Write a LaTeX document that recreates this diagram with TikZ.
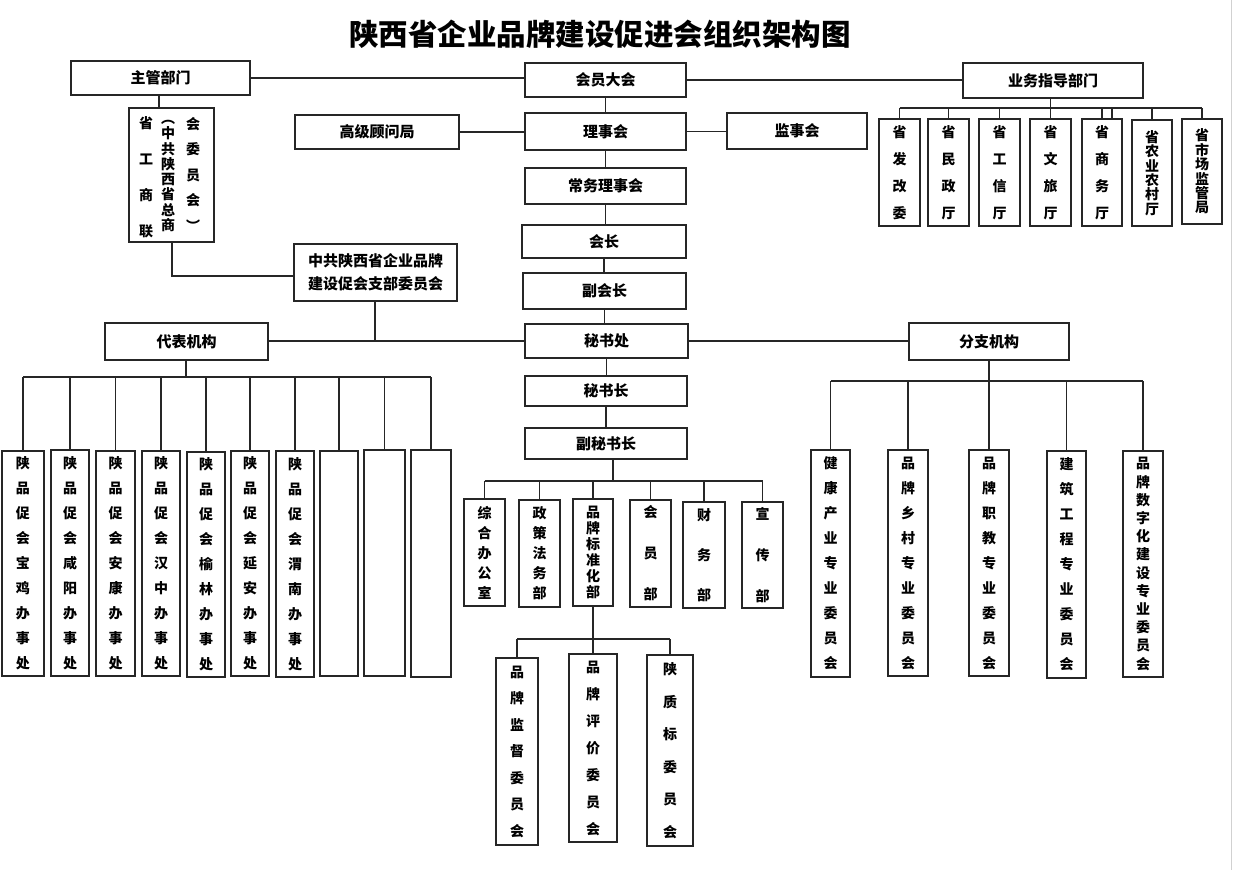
\documentclass[tikz,border=0pt]{standalone}
\usepackage{fontspec}
\setmainfont{Noto Sans CJK SC}
\tikzset{
  box/.style={draw=black!85, line width=1.1pt, inner sep=0pt, align=center,
    font=\fontsize{15}{18}\selectfont\bfseries},
  ln/.style={draw=black!85, line width=1.1pt},
  vtext/.style={align=center, inner sep=0pt},
}
% \bx[opts]{name}{x1}{y1}{x2}{y2}{text}
\newcommand\bx[7][]{%
  \pgfmathsetmacro\bxcx{(#3+#5)/2}%
  \pgfmathsetmacro\bxcy{(#4+#6)/2}%
  \pgfmathsetmacro\bxw{#5-#3}%
  \pgfmathsetmacro\bxh{#6-#4}%
  \node[box, minimum width=\bxw pt, minimum height=\bxh pt, #1] (#2) at (\bxcx,\bxcy) {#7};}
\newcommand\vt[1]{\fontsize{14}{#1}\selectfont\bfseries}
\begin{document}
\begin{tikzpicture}[x=1pt,y=-1pt]
\useasboundingbox (0,0) rectangle (1233,870);
\fill[white] (0,0) rectangle (1233,870);
\draw[black!18, line width=1pt] (1231,0) -- (1231,870);

\node[font=\fontsize{29.5}{34}\selectfont\bfseries] (title) at (600,34) {陕西省企业品牌建设促进会组织架构图};

% main column
\bx{zg}{71}{61}{250}{95}{主管部门}
\bx{hy}{525}{63}{686}{97}{会员大会}
\bx{yw}{963}{63}{1143}{98}{业务指导部门}
\bx{gw}{295}{115}{459}{149}{高级顾问局}
\bx{lsh}{525}{113}{686}{150}{理事会}
\bx{jsh}{727}{113}{867}{149}{监事会}
\bx{cw}{525}{168}{686}{204}{常务理事会}
\bx{hz}{522}{225}{686}{258}{会长}
\bx{fhz}{523}{273}{686}{309}{副会长}
\bx{msc}{525}{324}{688}{358}{秘书处}
\bx{msz}{525}{376}{687}{406}{秘书长}
\bx{fmsz}{525}{428}{687}{459}{副秘书长}
\bx[font=\fontsize{15}{23}\selectfont\bfseries]{zb}{294}{244}{457}{301}{中共陕西省企业品牌\\建设促会支部委员会}
\bx{db}{105}{323}{268}{360}{代表机构}
\bx{fz}{909}{323}{1069}{360}{分支机构}

% 省工商联
\bx{gsl}{129}{108}{214}{242}{}
\node[vtext, font=\vt{36}] (g1) at (146,177) {省\\工\\商\\联};
\node[vtext, font=\vt{15.3}] (g2) at (168,176) {︵\\中\\共\\陕\\西\\省\\总\\商};
\node[vtext, font=\vt{25.5}] (g3) at (193,174) {会\\委\\员\\会\\︶};

% ministries
\bx[font=\vt{27}]{m1}{879}{119}{920}{226}{省\\发\\改\\委}
\bx[font=\vt{27}]{m2}{928}{119}{969}{226}{省\\民\\政\\厅}
\bx[font=\vt{27}]{m3}{979}{119}{1020}{226}{省\\工\\信\\厅}
\bx[font=\vt{27}]{m4}{1030}{119}{1071}{226}{省\\文\\旅\\厅}
\bx[font=\vt{27}]{m5}{1082}{119}{1122}{226}{省\\商\\务\\厅}
\bx[font=\vt{14.4}]{m6}{1132}{120}{1172}{226}{省\\农\\业\\农\\村\\厅}
\bx[font=\vt{14.4}]{m7}{1182}{119}{1222}{224}{省\\市\\场\\监\\管\\局}

% offices
\bx[font=\vt{25}]{o1}{2}{451}{44}{676}{陕\\品\\促\\会\\宝\\鸡\\办\\事\\处}
\bx[font=\vt{25}]{o2}{51}{450}{89}{676}{陕\\品\\促\\会\\咸\\阳\\办\\事\\处}
\bx[font=\vt{25}]{o3}{96}{451}{135}{676}{陕\\品\\促\\会\\安\\康\\办\\事\\处}
\bx[font=\vt{25}]{o4}{142}{451}{180}{676}{陕\\品\\促\\会\\汉\\中\\办\\事\\处}
\bx[font=\vt{25}]{o5}{187}{452}{225}{677}{陕\\品\\促\\会\\榆\\林\\办\\事\\处}
\bx[font=\vt{25}]{o6}{231}{451}{269}{676}{陕\\品\\促\\会\\延\\安\\办\\事\\处}
\bx[font=\vt{25}]{o7}{276}{451}{314}{677}{陕\\品\\促\\会\\渭\\南\\办\\事\\处}
\bx{o8}{320}{451}{358}{676}{}
\bx{o9}{364}{450}{405}{676}{}
\bx{o10}{411}{450}{451}{677}{}

% departments
\bx[font=\vt{20}]{d1}{464}{499}{505}{606}{综\\合\\办\\公\\室}
\bx[font=\vt{20}]{d2}{519}{500}{560}{607}{政\\策\\法\\务\\部}
\bx[font=\vt{16}]{d3}{573}{499}{613}{606}{品\\牌\\标\\准\\化\\部}
\bx[font=\vt{41}]{d4}{630}{500}{671}{607}{会\\员\\部}
\bx[font=\vt{40}]{d5}{683}{502}{725}{608}{财\\务\\部}
\bx[font=\vt{41}]{d6}{742}{502}{783}{608}{宣\\传\\部}

% sub committees
\bx[font=\vt{26.5}]{s1}{496}{658}{538}{845}{品\\牌\\监\\督\\委\\员\\会}
\bx[font=\vt{27}]{s2}{569}{654}{617}{842}{品\\牌\\评\\价\\委\\员\\会}
\bx[font=\vt{32.5}]{s3}{647}{655}{693}{846}{陕\\质\\标\\委\\员\\会}

% branches
\bx[font=\vt{25}]{b1}{811}{450}{850}{677}{健\\康\\产\\业\\专\\业\\委\\员\\会}
\bx[font=\vt{25}]{b2}{888}{450}{928}{676}{品\\牌\\乡\\村\\专\\业\\委\\员\\会}
\bx[font=\vt{25}]{b3}{969}{450}{1009}{676}{品\\牌\\职\\教\\专\\业\\委\\员\\会}
\bx[font=\vt{25}]{b4}{1047}{451}{1086}{678}{建\\筑\\工\\程\\专\\业\\委\\员\\会}
\bx[font=\vt{18.2}]{b5}{1123}{451}{1163}{677}{品\\牌\\数\\字\\化\\建\\设\\专\\业\\委\\员\\会}

% coordinates
\coordinate (zc) at (159,0);
\coordinate (gk) at (172,276);
\coordinate (zk) at (375,341);
\coordinate (ob) at (186,377);
\coordinate (bb) at (989,381);
\coordinate (fb) at (613,481);
\coordinate (sb) at (593,639);
\coordinate (mb) at (1050,108);
\coordinate (mx) at (1112,108);

% connectors
\draw[ln] (zg.east) -- (zg.east -| hy.west);
\draw[ln] (hy.east) -- (hy.east -| yw.west);
\draw[ln] (hy.south) -- (lsh.north);
\draw[ln] (gw.east) -- (gw.east -| lsh.west);
\draw[ln] (lsh.east) -- (lsh.east -| jsh.west);
\draw[ln] (lsh.south) -- (cw.north);
\draw[ln] (cw.south) -- (cw.south |- hz.north);
\draw[ln] (hz.south) -- (hz.south |- fhz.north);
\draw[ln] (fhz.south) -- (fhz.south |- msc.north);
\draw[ln] (msc.south) -- (msc.south |- msz.north);
\draw[ln] (msz.south) -- (msz.south |- fmsz.north);
\draw[ln, line width=2.4pt] (fmsz.south -| fb) -- (fb);
\draw[ln] (d1.north |- fb) -- (d6.north |- fb);
\foreach \d in {d1,d2,d3,d4,d5,d6} \draw[ln] (\d.north |- fb) -- (\d.north);
\draw[ln] (d3.south) -- (d3.south |- sb);
\draw[ln] (s1.north |- sb) -- (s3.north |- sb);
\foreach \s in {s1,s2,s3} \draw[ln] (\s.north |- sb) -- (\s.north);

\draw[ln] (zg.south -| zc) -- (gsl.north -| zc);
\draw[ln] (gsl.south -| gk) -- (gk) -- (gk -| zb.west);
\draw[ln] (zb.south -| zk) -- (zk);
\draw[ln] (msc.west) -- (msc.west -| db.east);
\draw[ln] (msc.east) -- (msc.east -| fz.west);

\draw[ln] (db.south -| ob) -- (ob);
\draw[ln] (o1.north |- ob) -- (o10.north |- ob);
\foreach \o in {o1,o2,o3,o4,o5,o6,o7,o8,o9,o10} \draw[ln] (\o.north |- ob) -- (\o.north);

\draw[ln] (fz.south -| bb) -- (bb);
\draw[ln] (b1.north |- bb) -- (b5.north |- bb);
\foreach \b in {b1,b2,b3,b4,b5} \draw[ln] (\b.north |- bb) -- (\b.north);

\draw[ln] (yw.south -| m4.north) -- (m4.north);
\draw[ln] (m1.north |- mb) -- (m7.north |- mb);
\foreach \m in {m1,m2,m3,m5,m6,m7} \draw[ln] (\m.north |- mb) -- (\m.north);
\draw[ln] (mx) -- (mx |- m5.north);
\end{tikzpicture}
\end{document}
